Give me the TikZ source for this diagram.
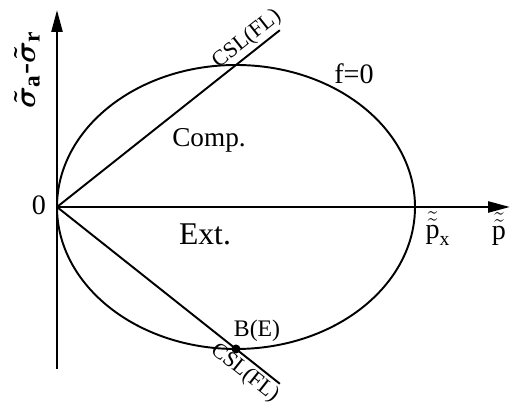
\documentclass[tikz,border=0pt]{standalone}
\usepackage{fontspec}
\setmainfont{Liberation Serif}
\usepackage{tikz}
\usetikzlibrary{arrows.meta, calc, positioning}

\begin{document}
\begin{tikzpicture}[
  x=0.02cm, y=0.02cm,
  font=\fontsize{15.5}{17}\selectfont,
  ln/.style={line width=1.1pt},
  axis/.style={line width=1.4pt, -{Triangle[length=4.4mm, width=2.2mm]}},
  csl/.style={font=\fontsize{12.5}{13}\selectfont, inner sep=1.5pt},
  lbl/.style={inner sep=0pt}
]
  \useasboundingbox (0,0) rectangle (515,418);

  % axes
  \coordinate (O)    at (57,211);
  \coordinate (ybot) at (57,49);
  \coordinate (ytop) at (57,408);
  \coordinate (xtip) at (510,211);
  \draw[line width=1.4pt] (ybot) -- (O);
  \draw[axis] (O) -- (ytop);
  \draw[axis] (O) -- (xtip);

  % yield surface f=0
  \coordinate (C) at (236,211);
  \draw[ln] (C) ellipse [x radius=179, y radius=142];
  \coordinate (top) at (236,353);
  \coordinate (B)   at (236,69);

  % critical state lines
  \coordinate (cslU) at ($(O)!1.245!(top)$);
  \coordinate (cslL) at ($(O)!1.245!(B)$);
  \draw[ln] (O) -- (cslU) node[csl, pos=0.89, sloped, above] {CSL(FL)};
  \draw[ln] (O) -- (cslL) node[csl, pos=0.88, sloped, below] {CSL(FL)};
  \fill (B) circle [radius=4.5];

  % labels
  \node[lbl, font=\fontsize{16}{17}\selectfont] (zero) at (39,213) {0};
  \node[lbl] (comp) at (209,278) {Comp.};
  \node[lbl, font=\fontsize{18}{19}\selectfont] (ext) at (205,184) {Ext.};
  \node[lbl, font=\fontsize{16}{17}\selectfont] (f0) at (354,344) {f=0};
  \node[lbl, font=\fontsize{13.5}{14}\selectfont] (be) at (257,87) {B(E)};
  \node[lbl, font=\fontsize{16}{17}\selectfont] (px) at (438,189) {$\tilde{\tilde{\mathrm{p}}}_{\mathrm{x}}$};
  \node[lbl, font=\fontsize{16}{17}\selectfont] (p) at (499,189) {$\tilde{\tilde{\mathrm{p}}}$};
  \node[lbl, rotate=90, font=\fontsize{19}{20}\selectfont\boldmath] (yl) at (27,348)
      {$\tilde{\sigma}_{\mathrm{a}}\mbox{-}\tilde{\sigma}_{\mathrm{r}}$};
\end{tikzpicture}
\end{document}
